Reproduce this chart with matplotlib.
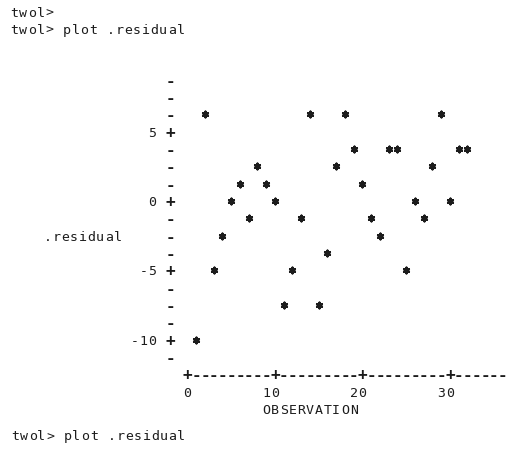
import numpy as np
import matplotlib
matplotlib.use("Agg")
import matplotlib.pyplot as plt

# residual per observation, as printed on the line-printer style plot
observation = [1, 2, 3, 4, 5, 6, 7, 8, 9, 10, 11, 12, 13, 14, 15, 16,
               17, 18, 19, 20, 21, 22, 23, 24, 25, 26, 27, 28, 29, 30, 31, 32]
residual = [-10, 6.25, -5, -2.5, 0, 1.25, -1.25, 2.5, 1.25, 0, -7.5, -5,
            -1.25, 6.25, -7.5, -3.75, 2.5, 6.25, 3.75, 1.25, -1.25, -2.5,
            3.75, 3.75, -5, 0, -1.25, 2.5, 6.25, 0, 3.75, 3.75]

y_tick_values = [5, 0, -5, -10]
x_tick_values = [0, 10, 20, 30]
x_label = "OBSERVATION"
y_label = ".residual"
prompt_lines = ["twol>", "twol> plot .residual"]
trailing_prompt = "twol> plot .residual"

INK = "#1c1c1c"
MONO = "DejaVu Sans Mono"
FS = 9.5
MARK_FS = 11.5

# terminal grid: one column per observation, one row per 1.25 units
ROW = 1.25
AXIS_COL = -2
AXIS_ROW = -12.5

fig = plt.figure(figsize=(5.10, 4.53), dpi=100)
ax = fig.add_axes([0, 0, 1, 1])
ax.set_xlim(-21.43, 36.86)
ax.set_ylim(-18.17, 14.49)
ax.axis("off")


def put(col, row, s, size=FS, weight="normal"):
    """Write a string one character per grid column."""
    for i, ch in enumerate(s):
        if ch != " ":
            ax.text(col + i, row, ch, ha="center", va="center_baseline",
                    family=MONO, fontsize=size, fontweight=weight, color=INK)


def put_right(col, row, s):
    put(col - len(s) + 1, row, s)


# vertical axis: '+' at labelled values, '-' on every other row
for r in np.arange(-11.25, 9.0, ROW):
    mark = "+" if any(abs(r - v) < 1e-6 for v in y_tick_values) else "-"
    put(AXIS_COL, r, mark, MARK_FS, "bold")
for v in y_tick_values:
    put_right(AXIS_COL - 2, v, "%d" % v)

# horizontal axis
for c in range(0, 37):
    mark = "+" if c in x_tick_values else "-"
    put(c, AXIS_ROW, mark, MARK_FS, "bold")
for v in x_tick_values:
    put_right(v, AXIS_ROW - ROW, "%d" % v)

put(9, AXIS_ROW - 2 * ROW, x_label)
put(-16, -2.5, y_label)

# the points
ax.scatter(observation, residual, marker=(6, 2, 0), s=16,
           linewidths=1.7, color=INK, zorder=3)

# session text around the plot
put(-19.8, 13.6, prompt_lines[0])
put(-19.8, 12.4, prompt_lines[1])
put(-19.7, -16.9, trailing_prompt)

fig.savefig("out.png", dpi=100, facecolor="white")
